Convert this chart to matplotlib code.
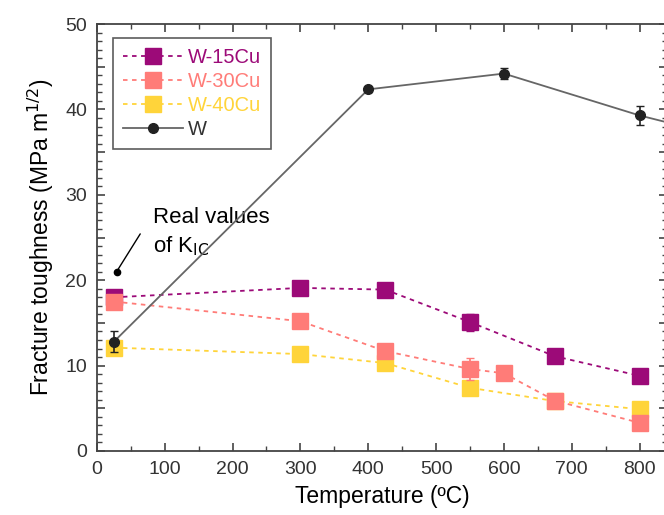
"""Fracture toughness vs temperature for W and W-Cu composites."""
import matplotlib
matplotlib.use("Agg")
import matplotlib.pyplot as plt
from matplotlib.lines import Line2D
from matplotlib.ticker import MultipleLocator, FuncFormatter

plt.rcParams["font.family"] = ["Liberation Sans", "DejaVu Sans"]

# data
temp_cu = [25, 300, 425, 550, 675, 800]
k_15cu = [18.0, 19.1, 18.9, 15.1, 11.1, 8.8]
err_15cu = [0.4, 0.8, 0.4, 1.0, 0.6, 0.3]

temp_30cu = [25, 300, 425, 550, 600, 675, 800]
k_30cu = [17.5, 15.2, 11.7, 9.6, 9.1, 5.9, 3.3]
err_30cu = [0.6, 0.3, 0.3, 1.3, 0.3, 0.3, 0.3]

k_40cu = [12.1, 11.35, 10.3, 7.4, 5.85, 4.9]
err_40cu = [0.3, 0.3, 0.3, 0.3, 0.3, 0.3]

temp_w = [25, 400, 600, 800, 850]
k_w = [12.8, 42.35, 44.2, 39.3, 38.3]
err_w = [1.2, 0.3, 0.6, 1.1, 0.0]

labels = ["W-15Cu", "W-30Cu", "W-40Cu", "W"]
c15 = "#9c0a78"
c30 = "#ff7c78"
c40 = "#ffd43a"
cw = "#222222"
cw_line = "#666666"

fig = plt.figure(figsize=(6.64, 5.15), dpi=100)
ax = fig.add_axes([0.146, 0.1243, 0.859, 0.829])

dash = (0, (2.5, 2.5))
ax.errorbar(temp_cu, k_40cu, yerr=err_40cu, color=c40, ls=dash, lw=1.3,
            marker="s", ms=11.5, capsize=3, zorder=3)
ax.errorbar(temp_30cu, k_30cu, yerr=err_30cu, color=c30, ls=dash, lw=1.3,
            marker="s", ms=11.5, capsize=3, zorder=4)
ax.errorbar(temp_cu, k_15cu, yerr=err_15cu, color=c15, ls=dash, lw=1.3,
            marker="s", ms=11.5, capsize=3, zorder=2)
ax.plot(temp_w, k_w, color=cw_line, lw=1.3, zorder=5)
ax.errorbar(temp_w, k_w, yerr=err_w, color=cw, ls="none",
            marker="o", ms=7, capsize=3, elinewidth=1.2, zorder=6)

ax.set_xlim(0, 841)
ax.set_ylim(0, 50)

ax.xaxis.set_major_locator(MultipleLocator(100))
ax.xaxis.set_minor_locator(MultipleLocator(50))
ax.yaxis.set_major_locator(MultipleLocator(5))
ax.yaxis.set_minor_locator(MultipleLocator(1))
ax.yaxis.set_major_formatter(FuncFormatter(lambda v, p: f"{v:.0f}" if v % 10 == 0 else ""))
ax.tick_params(which="both", direction="in", top=True, right=True,
               labelsize=14, labelcolor="#333333", color="#444444", pad=7)
ax.tick_params(which="major", length=6, width=1.2)
ax.tick_params(which="minor", length=3.5, width=1.0)
for s in ax.spines.values():
    s.set_color("#444444")
    s.set_linewidth(1.3)

ax.set_xlabel("Temperature (ºC)", fontsize=16.5, labelpad=5)
ax.set_ylabel("Fracture toughness (MPa m$^{1/2}$)", fontsize=16.5, labelpad=7)

ax.annotate("", xy=(29, 21.0), xytext=(66, 25.7),
            arrowprops=dict(arrowstyle="-", color="black", lw=1.0))
ax.plot([29], [21.0], "o", color="black", ms=4.5)
ax.text(83, 27.3, "Real values", fontsize=16, va="center")
ax.text(83, 24.0, "of K$_{\\mathrm{IC}}$", fontsize=16, va="center")

handles = [
    Line2D([], [], color=c15, ls=dash, lw=1.3, marker="s", ms=11.5),
    Line2D([], [], color=c30, ls=dash, lw=1.3, marker="s", ms=11.5),
    Line2D([], [], color=c40, ls=dash, lw=1.3, marker="s", ms=11.5),
    Line2D([], [], color=cw_line, lw=1.3, marker="o", ms=7,
           mfc=cw, mec=cw),
]
leg = ax.legend(handles, labels,
                loc="upper left", bbox_to_anchor=(0.028, 0.967), fontsize=14.5,
                frameon=True, fancybox=False, edgecolor="#333333",
                handlelength=3.0, handletextpad=0.2, labelspacing=0.25,
                borderpad=0.5, borderaxespad=0)
leg.get_frame().set_linewidth(1.2)
for txt, col in zip(leg.get_texts(), [c15, c30, c40, "#333333"]):
    txt.set_color(col)

fig.savefig("out.png", dpi=100)
